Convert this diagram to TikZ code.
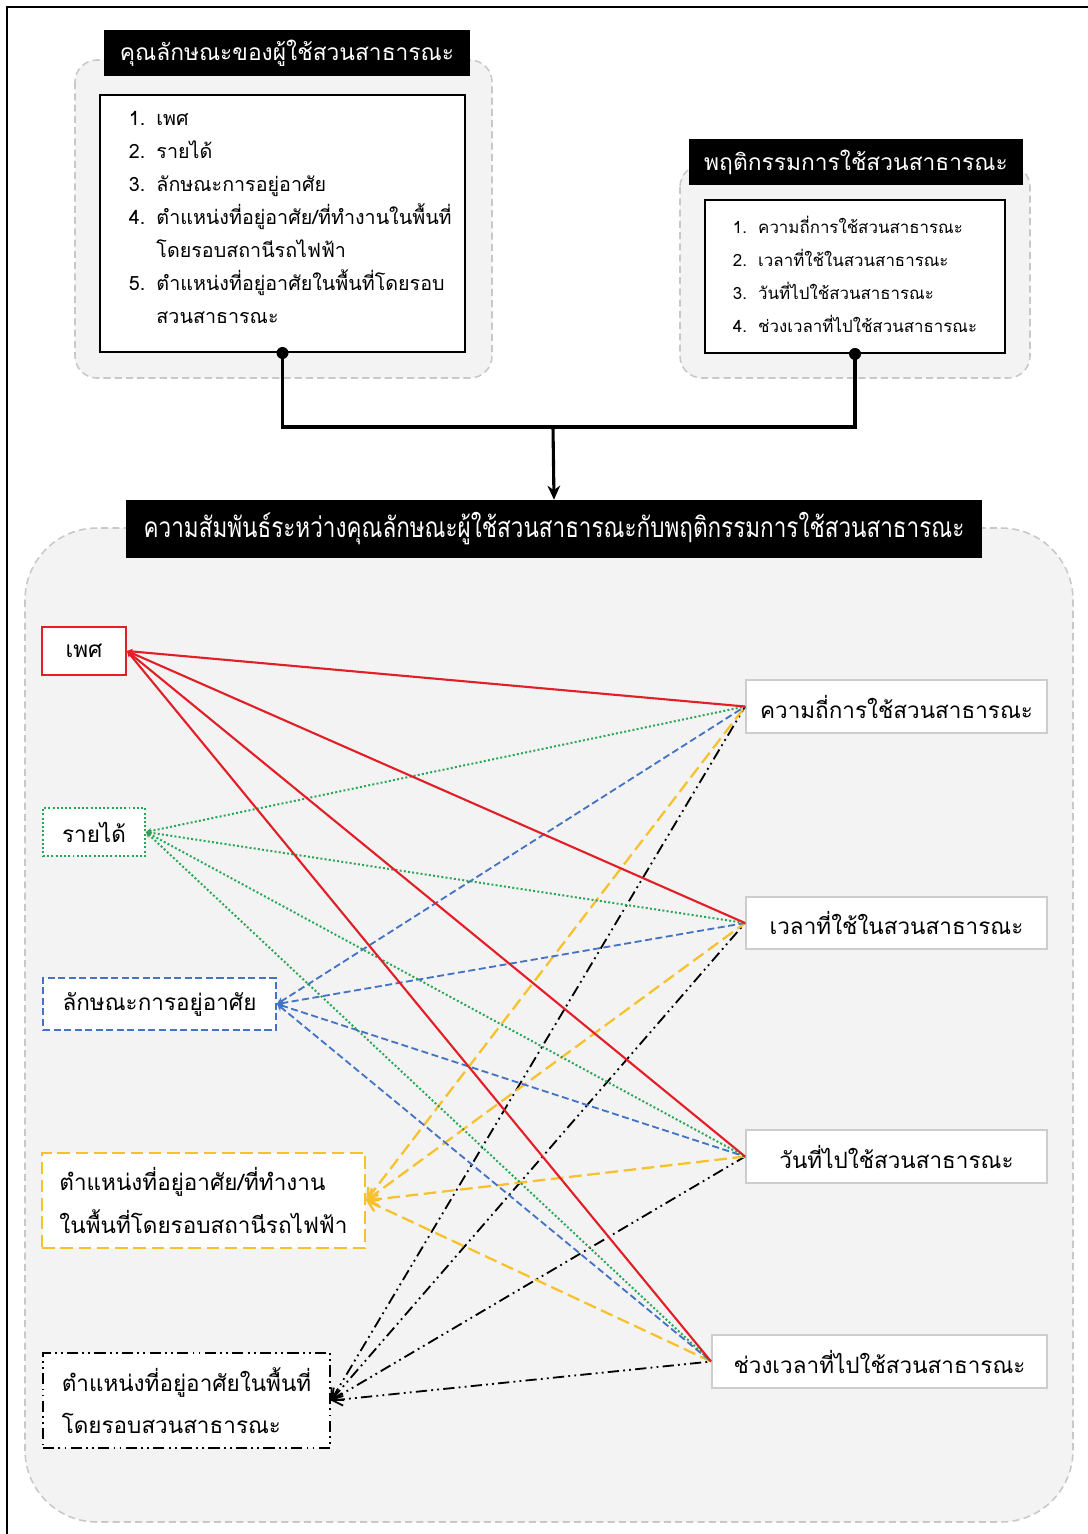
\documentclass[tikz,border=0pt]{standalone}
\usepackage{fontspec}
\setmainfont[Script=Thai]{Loma}
\newfontfamily\narrowthai[Script=Thai,FakeStretch=0.8]{Loma}
\usetikzlibrary{arrows.meta,positioning,calc}
\definecolor{lnred}{RGB}{226,30,38}
\definecolor{lngreen}{RGB}{40,165,85}
\definecolor{lnblue}{RGB}{68,114,196}
\definecolor{lnyellow}{RGB}{247,193,45}
\definecolor{grpfill}{RGB}{243,243,243}
\definecolor{grpline}{RGB}{200,200,200}
\definecolor{dstline}{RGB}{205,205,205}
\newcommand{\px}{0.025cm}

\begin{document}
\begin{tikzpicture}[x=0.025cm,y=-0.025cm,
grp/.style={draw=grpline,fill=grpfill,dash pattern=on 5pt off 3pt,line width=1.1pt},
ttl/.style={fill=black,text=white,inner sep=0pt,font=\fontsize{16.2}{22}\selectfont},
lst/.style={draw,line width=1.4pt,fill=white,inner sep=0pt,font=\fontsize{14}{23.5}\selectfont},
src/.style={fill=white,inner sep=0pt,align=left,font=\fontsize{16}{30}\selectfont},
dst/.style={draw=dstline,line width=1.3pt,fill=white,inner sep=0pt,font=\fontsize{16}{20}\selectfont},
conn/.style={line width=2.2pt},
redl/.style={lnred,line width=1.5pt,{Stealth[length=4pt,width=4pt]}-},
greenl/.style={lngreen,line width=1.4pt,dash pattern=on 1.4pt off 1.6pt,{Stealth[length=4pt,width=4pt]}-},
bluel/.style={lnblue,line width=1.3pt,dash pattern=on 5pt off 2.5pt,{Stealth[length=5pt,width=5pt]}-},
yell/.style={lnyellow,line width=1.6pt,dash pattern=on 9pt off 4pt,{Straight Barb[length=7pt,width=9pt]}-},
blackl/.style={black,line width=1.3pt,dash pattern=on 8pt off 3pt on 1.3pt off 3pt on 1.3pt off 3pt,{Straight Barb[length=7pt,width=9pt]}-}]

\useasboundingbox (0,0) rectangle (1087,1534);
\draw[line width=1.8pt] (7,1560) -- (7,7) -- (1100,7);

\draw[grp,rounded corners=0.55cm] (75,60) rectangle (492,378);
\draw[grp,rounded corners=0.55cm] (680,165) rectangle (1030,378);
\draw[grp,rounded corners=1.8cm] (25,528) rectangle (1073,1522);

\node[ttl,minimum width=366*\px,minimum height=46*\px] (t1) at (287,53) {คุณลักษณะของผู้ใช้สวนสาธารณะ};
\node[ttl,minimum width=334*\px,minimum height=46*\px] (t2) at (856,162) {พฤติกรรมการใช้สวนสาธารณะ};
\node[ttl,minimum width=856*\px,minimum height=58*\px,font=\narrowthai\fontsize{20}{24}\selectfont] (t3) at (554,529) {ความสัมพันธ์ระหว่างคุณลักษณะผู้ใช้สวนสาธารณะกับพฤติกรรมการใช้สวนสาธารณะ};

\node[lst,minimum width=365*\px,minimum height=257*\px] (l1) at (282.5,223.5) {%
\begin{tabular}{@{\hspace{11pt}}r@{\hspace{8pt}}l@{}}
1. & เพศ\\
2. & รายได้\\
3. & ลักษณะการอยู่อาศัย\\
4. & ตำแหน่งที่อยู่อาศัย/ที่ทำงานในพื้นที่\\
   & โดยรอบสถานีรถไฟฟ้า\\
5. & ตำแหน่งที่อยู่อาศัยในพื้นที่โดยรอบ\\
   & สวนสาธารณะ\\[8pt]
\end{tabular}};
\node[lst,minimum width=300*\px,minimum height=153*\px,font=\fontsize{12}{23.5}\selectfont] (l2) at (855,276.5) {%
\begin{tabular}{@{}r@{\hspace{8pt}}l@{}}
1. & ความถี่การใช้สวนสาธารณะ\\
2. & เวลาที่ใช้ในสวนสาธารณะ\\
3. & วันที่ไปใช้สวนสาธารณะ\\
4. & ช่วงเวลาที่ไปใช้สวนสาธารณะ
\end{tabular}};

\coordinate (jn) at (553,427);
\draw[conn] (l1.south) -- (l1.south |- jn) -- (l2.south |- jn) -- (l2.south);
\fill (l1.south) circle (0.15cm);
\fill (l2.south) circle (0.15cm);
\draw[conn,-{Stealth[length=10pt,width=9pt]}] (jn) -- (t3.north);

\node[src,draw=lnred,line width=1.5pt,minimum width=84*\px,minimum height=48*\px] (a) at (84,651) {เพศ};
\node[src,draw=lngreen,line width=1.4pt,dash pattern=on 1.4pt off 1.6pt,minimum width=102*\px,minimum height=48*\px] (b) at (94,832) {รายได้};
\node[src,draw=lnblue,line width=1.4pt,dash pattern=on 5pt off 2.5pt,minimum width=233*\px,minimum height=52*\px] (c) at (159.5,1004) {ลักษณะการอยู่อาศัย};
\node[src,draw=lnyellow,line width=1.6pt,dash pattern=on 9pt off 4pt,minimum width=323*\px,minimum height=95*\px] (d) at (203.5,1200.5) {ตำแหน่งที่อยู่อาศัย/ที่ทำงาน\\ในพื้นที่โดยรอบสถานีรถไฟฟ้า};
\node[src,draw=black,line width=1.4pt,dash pattern=on 8pt off 3pt on 1.3pt off 3pt on 1.3pt off 3pt,minimum width=287*\px,minimum height=95*\px] (e) at (186.5,1400.5) {ตำแหน่งที่อยู่อาศัยในพื้นที่\\โดยรอบสวนสาธารณะ};

\node[dst,minimum width=301*\px,minimum height=53*\px] (p) at (896.5,706.5) {ความถี่การใช้สวนสาธารณะ};
\node[dst,minimum width=301*\px,minimum height=52*\px] (q) at (896.5,923) {เวลาที่ใช้ในสวนสาธารณะ};
\node[dst,minimum width=301*\px,minimum height=53*\px] (r) at (896.5,1156.5) {วันที่ไปใช้สวนสาธารณะ};
\node[dst,minimum width=335*\px,minimum height=53*\px] (s) at (879.5,1361.5) {ช่วงเวลาที่ไปใช้สวนสาธารณะ};

\foreach \t in {p,q,r,s} \draw[blackl] (e.east) -- (\t.west);
\foreach \t in {p,q,r,s} \draw[yell] (d.east) -- (\t.west);
\foreach \t in {p,q,r,s} \draw[bluel] (c.east) -- (\t.west);
\foreach \t in {p,q,r,s} \draw[greenl] (b.east) -- (\t.west);
\foreach \t in {p,q,r,s} \draw[redl] (a.east) -- (\t.west);
\end{tikzpicture}
\end{document}
